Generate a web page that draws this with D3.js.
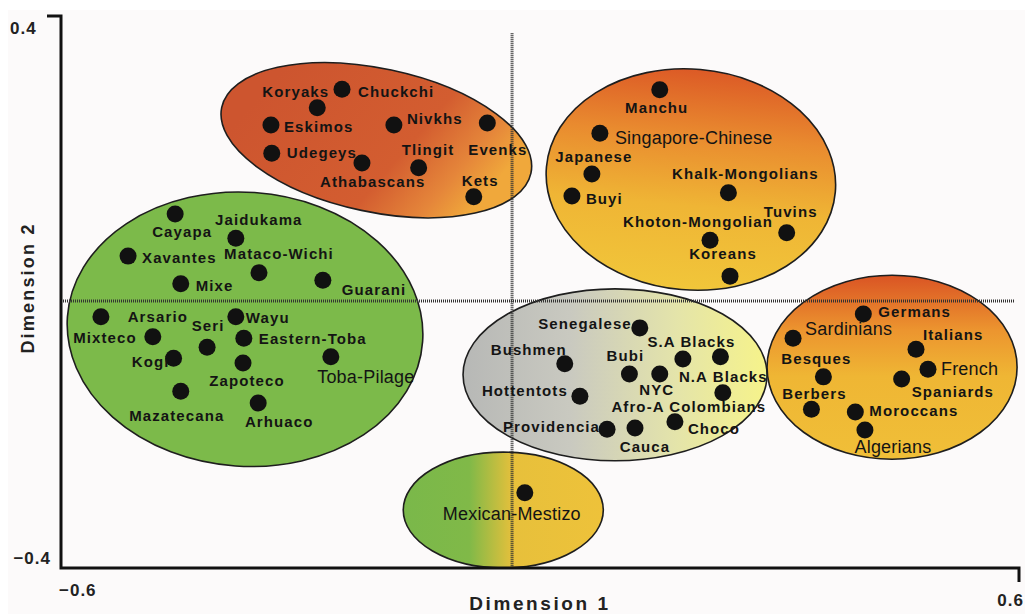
<!DOCTYPE html>
<html>
<head>
<meta charset="utf-8">
<script src="https://cdn.jsdelivr.net/npm/d3@7"></script>
<style>
  body { margin: 0; background: #fff; }
  svg { display: block; font-family: "Liberation Sans", Arial, sans-serif; }
  .lbl { font-weight: bold; font-size: 15px; letter-spacing: 1.1px; fill: #141414; }
  .lbl.reg { font-weight: normal; font-size: 18px; letter-spacing: 0.2px; }
  .tick { font-weight: bold; font-size: 17px; letter-spacing: 1px; fill: #222; }
  .title { font-weight: bold; fill: #222; }
</style>
</head>
<body>
<div class="mds-chart"></div>
<script>
// axis extents + tick labels
var xDomain = [-0.6, 0.6]
var yDomain = [-0.4, 0.4]
var xTicks = [-0.6, 0.6]
var yTicks = [-0.4, 0.4]

// dotted reference lines (dimension 1, dimension 2)
var refX = -0.035
var refY = -0.013

// populations, grouped by cluster
var siberian = [
  {name: 'Chuckchi', x: -0.248, y: 0.294},
  {name: 'Koryaks', x: -0.279, y: 0.267},
  {name: 'Eskimos', x: -0.337, y: 0.242},
  {name: 'Udegeys', x: -0.336, y: 0.201},
  {name: 'Athabascans', x: -0.223, y: 0.187},
  {name: 'Nivkhs', x: -0.183, y: 0.242},
  {name: 'Tlingit', x: -0.152, y: 0.180},
  {name: 'Evenks', x: -0.066, y: 0.245},
  {name: 'Kets', x: -0.083, y: 0.138}
]

var eastAsian = [
  {name: 'Manchu', x: 0.150, y: 0.293},
  {name: 'Singapore-Chinese', x: 0.075, y: 0.230},
  {name: 'Japanese', x: 0.065, y: 0.171},
  {name: 'Buyi', x: 0.040, y: 0.139},
  {name: 'Khalk-Mongolians', x: 0.236, y: 0.144},
  {name: 'Khoton-Mongolian', x: 0.213, y: 0.075},
  {name: 'Tuvins', x: 0.309, y: 0.086},
  {name: 'Koreans', x: 0.238, y: 0.023}
]

var amerindian = [
  {name: 'Cayapa', x: -0.457, y: 0.113},
  {name: 'Jaidukama', x: -0.381, y: 0.078},
  {name: 'Xavantes', x: -0.516, y: 0.052},
  {name: 'Mataco-Wichi', x: -0.352, y: 0.028},
  {name: 'Mixe', x: -0.450, y: 0.012},
  {name: 'Guarani', x: -0.272, y: 0.017},
  {name: 'Mixteco', x: -0.550, y: -0.036},
  {name: 'Arsario', x: -0.485, y: -0.065},
  {name: 'Seri', x: -0.417, y: -0.080},
  {name: 'Wayu', x: -0.381, y: -0.036},
  {name: 'Eastern-Toba', x: -0.371, y: -0.067},
  {name: 'Kogi', x: -0.459, y: -0.096},
  {name: 'Zapoteco', x: -0.372, y: -0.103},
  {name: 'Toba-Pilage', x: -0.262, y: -0.094},
  {name: 'Mazatecana', x: -0.450, y: -0.144},
  {name: 'Arhuaco', x: -0.353, y: -0.161}
]

var african = [
  {name: 'Senegalese', x: 0.125, y: -0.052},
  {name: 'S.A Blacks', x: 0.226, y: -0.094},
  {name: 'N.A Blacks', x: 0.179, y: -0.097},
  {name: 'Afro-A Colombians', x: 0.229, y: -0.146},
  {name: 'Bubi', x: 0.112, y: -0.119},
  {name: 'NYC', x: 0.150, y: -0.119},
  {name: 'Bushmen', x: 0.031, y: -0.104},
  {name: 'Hottentots', x: 0.050, y: -0.151},
  {name: 'Providencia', x: 0.084, y: -0.199},
  {name: 'Cauca', x: 0.119, y: -0.197},
  {name: 'Choco', x: 0.169, y: -0.188}
]

var european = [
  {name: 'Germans', x: 0.405, y: -0.032},
  {name: 'Sardinians', x: 0.317, y: -0.067},
  {name: 'Italians', x: 0.471, y: -0.083},
  {name: 'French', x: 0.486, y: -0.112},
  {name: 'Spaniards', x: 0.453, y: -0.126},
  {name: 'Besques', x: 0.355, y: -0.123},
  {name: 'Berbers', x: 0.340, y: -0.170},
  {name: 'Moroccans', x: 0.395, y: -0.174},
  {name: 'Algerians', x: 0.407, y: -0.200}
]

var mestizo = [
  {name: 'Mexican-Mestizo', x: -0.019, y: -0.291}
]

// cluster outlines (centre + radii in data units)
var clusters = [
  {id: 'amer', cx: -0.3695, cy: -0.054, rx: 0.223, ry: 0.1986, angle: 4},
  {id: 'sib', cx: -0.205, cy: 0.220, rx: 0.198, ry: 0.104, angle: 12},
  {id: 'asia', cx: 0.189, cy: 0.163, rx: 0.1816, ry: 0.160, angle: 5},
  {id: 'afr', cx: 0.094, cy: -0.120, rx: 0.1904, ry: 0.1246, angle: 0},
  {id: 'eur', cx: 0.441, cy: -0.109, rx: 0.1566, ry: 0.1333, angle: 0},
  {id: 'mest', cx: -0.046, cy: -0.316, rx: 0.1253, ry: 0.084, angle: 0}
]

// label placement: dx, dy (px from dot), anchor, regular weight?
var labelPos = {
  'Chuckchi': [16, 2, 'start'], 'Koryaks': [12, -16, 'end'], 'Eskimos': [13, 2, 'start'],
  'Udegeys': [15, -1, 'start'], 'Athabascans': [-42, 19, 'start'], 'Nivkhs': [13, -6, 'start'],
  'Tlingit': [-17, -18, 'start'], 'Evenks': [-19, 27, 'start'], 'Kets': [-12, -16, 'start'],
  'Manchu': [-3, 18, 'middle'], 'Singapore-Chinese': [15, 4, 'start', true], 'Japanese': [2, -17, 'middle'],
  'Buyi': [14, 3, 'start'], 'Khalk-Mongolians': [17, -19, 'middle'], 'Khoton-Mongolian': [-12, -19, 'middle'],
  'Tuvins': [4, -21, 'middle'], 'Koreans': [-7, -23, 'middle'],
  'Cayapa': [7, 18, 'middle'], 'Jaidukama': [23, -19, 'middle'], 'Xavantes': [14, 1, 'start'],
  'Mataco-Wichi': [20, -19, 'middle'], 'Mixe': [15, 2, 'start'], 'Guarani': [19, 9, 'start'],
  'Mixteco': [4, 21, 'middle'], 'Arsario': [5, -20, 'middle'], 'Seri': [1, -22, 'middle'],
  'Wayu': [10, 1, 'start'], 'Eastern-Toba': [15, 0, 'start'], 'Kogi': [-4, 3, 'end'],
  'Zapoteco': [4, 18, 'middle'], 'Toba-Pilage': [35, 20, 'middle', true], 'Mazatecana': [-4, 24, 'middle'],
  'Arhuaco': [21, 19, 'middle'],
  'Senegalese': [-8, -4, 'end'], 'S.A Blacks': [-29, -15, 'middle'], 'N.A Blacks': [-4, 18, 'start'],
  'Afro-A Colombians': [-34, 14, 'middle'], 'Bubi': [-4, -19, 'middle'], 'NYC': [-3, 15, 'middle'],
  'Bushmen': [-36, -14, 'middle'], 'Hottentots': [-12, -6, 'end'], 'Providencia': [-7, -3, 'end'],
  'Cauca': [10, 19, 'middle'], 'Choco': [13, 7, 'start'],
  'Germans': [15, -2, 'start'], 'Sardinians': [12, -10, 'start', true], 'Italians': [7, -15, 'start'],
  'French': [13, -1, 'start', true], 'Spaniards': [10, 13, 'start'], 'Besques': [-7, -18, 'middle'],
  'Berbers': [3, -16, 'middle'], 'Moroccans': [14, -1, 'start'], 'Algerians': [28, 17, 'middle', true],
  'Mexican-Mestizo': [-13, 21, 'middle', true]
}

var width = 1025, height = 614
var plot = {left: 61, right: 1019, top: 16, bottom: 568}

var xScale = d3.scaleLinear().domain(xDomain).range([plot.left, plot.right])
var yScale = d3.scaleLinear().domain(yDomain).range([plot.bottom, plot.top])
var pxPerX = (plot.right - plot.left) / (xDomain[1] - xDomain[0])
var pxPerY = (plot.bottom - plot.top) / (yDomain[1] - yDomain[0])

var svg = d3.select('.mds-chart')
  .append('svg')
  .attr('width', width)
  .attr('height', height)

svg.append('rect')
  .attr('x', 8).attr('y', 10)
  .attr('width', width - 8).attr('height', height - 10)
  .style('fill', '#fcfafa')

// gradients
var defs = svg.append('defs')
function addGrad(id, x1, y1, x2, y2, stops) {
  var g = defs.append('linearGradient').attr('id', id)
    .attr('x1', x1).attr('y1', y1).attr('x2', x2).attr('y2', y2)
  stops.forEach(function(s) {
    g.append('stop').attr('offset', s[0]).attr('stop-color', s[1])
  })
}
addGrad('g-sib', 0.1, 0.4, 0.9, 0.6, [[0, '#cd552f'], [0.62, '#d35d30'], [0.85, '#e5863a'], [1, '#f0a83b']])
addGrad('g-asia', 0.5, 0, 0.5, 1, [[0, '#dc5a26'], [0.3, '#e98b2f'], [0.62, '#efb535'], [1, '#f1c63a']])
addGrad('g-eur', 0.5, 0, 0.5, 1, [[0, '#da5424'], [0.3, '#ec952f'], [0.55, '#efb634'], [1, '#f0bf38']])
addGrad('g-afr', 0, 0.5, 1, 0.5, [[0, '#b7b8b6'], [0.35, '#c9c9c0'], [0.7, '#e4e4aa'], [1, '#f6f38a']])
addGrad('g-mest', 0, 0.5, 1, 0.5, [[0, '#7ab84a'], [0.33, '#80b948'], [0.55, '#e7c03b'], [1, '#eec23a']])

var fills = {amer: '#7cba4a', sib: 'url(#g-sib)', asia: 'url(#g-asia)', afr: 'url(#g-afr)', eur: 'url(#g-eur)', mest: 'url(#g-mest)'}

svg.selectAll('.cluster')
  .data(clusters)
  .enter()
  .append('ellipse')
  .attr('class', 'cluster')
  .attr('cx', 0).attr('cy', 0)
  .attr('rx', function(d) { return d.rx * pxPerX })
  .attr('ry', function(d) { return d.ry * pxPerY })
  .attr('transform', function(d) {
    return 'translate(' + xScale(d.cx) + ',' + yScale(d.cy) + ') rotate(' + d.angle + ')'
  })
  .style('fill', function(d) { return fills[d.id] })
  .style('stroke', '#1e1e1e')
  .style('stroke-width', 1.6)

// dotted reference lines
svg.append('line')
  .attr('x1', xScale(refX)).attr('x2', xScale(refX))
  .attr('y1', yScale(0.375)).attr('y2', plot.bottom)
  .style('stroke', '#333').style('stroke-width', 3)
  .style('stroke-dasharray', '1,1')
svg.append('line')
  .attr('x1', plot.left).attr('x2', xScale(0.595))
  .attr('y1', yScale(refY)).attr('y2', yScale(refY))
  .style('stroke', '#333').style('stroke-width', 3)
  .style('stroke-dasharray', '1,1')

// axes
var axis = svg.append('g').style('stroke', '#111').style('stroke-width', 3).style('fill', 'none')
axis.append('path')
  .attr('d', 'M' + (plot.left - 14) + ',' + yScale(yDomain[1]) + 'H' + plot.left +
    'V' + yScale(yDomain[0]) + 'H' + xScale(xDomain[1]) + 'V' + (plot.bottom + 14))

var tickFmt = d3.format('.1f')
svg.append('text').attr('class', 'tick')
  .attr('x', plot.left - 51).attr('y', yScale(yTicks[1]) + 18)
  .text(tickFmt(yTicks[1]))
svg.append('text').attr('class', 'tick')
  .attr('text-anchor', 'end')
  .attr('x', plot.left - 10).attr('y', yScale(yTicks[0]) - 4)
  .text(tickFmt(yTicks[0]))
svg.append('text').attr('class', 'tick')
  .attr('x', xScale(xTicks[0]) - 2).attr('y', plot.bottom + 28)
  .text(tickFmt(xTicks[0]))
svg.append('text').attr('class', 'tick')
  .attr('text-anchor', 'end')
  .attr('x', width - 1).attr('y', plot.bottom + 38)
  .text(tickFmt(xTicks[1]))

svg.append('text').attr('class', 'title')
  .attr('text-anchor', 'middle')
  .attr('x', xScale(0)).attr('y', 610)
  .style('font-size', '19px').style('letter-spacing', '2.6px')
  .text('Dimension 1')
svg.append('text').attr('class', 'title')
  .attr('text-anchor', 'middle')
  .attr('transform', 'translate(34,288) rotate(-90)')
  .style('font-size', '18px').style('letter-spacing', '2.2px')
  .text('Dimension 2')

// dots + labels
var points = [].concat(siberian, eastAsian, amerindian, african, european, mestizo)

svg.selectAll('.dot')
  .data(points)
  .enter()
  .append('circle')
  .attr('class', 'dot')
  .attr('cx', function(d) { return xScale(d.x) })
  .attr('cy', function(d) { return yScale(d.y) })
  .attr('r', 8.5)
  .style('fill', '#111')

svg.selectAll('.lbl')
  .data(points)
  .enter()
  .append('text')
  .attr('class', function(d) { return labelPos[d.name][3] ? 'lbl reg' : 'lbl' })
  .attr('x', function(d) { return xScale(d.x) + labelPos[d.name][0] })
  .attr('y', function(d) { return yScale(d.y) + labelPos[d.name][1] })
  .attr('dy', '0.36em')
  .attr('text-anchor', function(d) { return labelPos[d.name][2] })
  .text(function(d) { return d.name })
</script>
</body>
</html>
